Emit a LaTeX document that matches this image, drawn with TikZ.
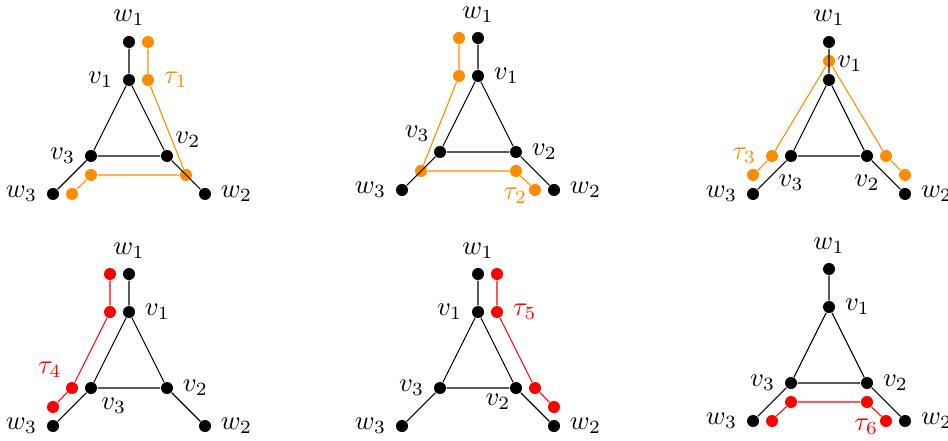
\documentclass[tikz,border=0pt]{standalone}
\usepackage{amsmath}
\usepackage{tikz}
\definecolor{tauorange}{RGB}{255,140,0}
\definecolor{taured}{RGB}{255,0,0}

\begin{document}
\begin{tikzpicture}[x=0.5cm, y=0.5cm,
  dot/.style={circle, fill, inner sep=0pt, minimum size=4.5pt},
  odot/.style={dot, tauorange},
  rdot/.style={dot, taured}]
  \useasboundingbox (0,0) rectangle (24.947,11.579);

  % tau_1
  \begin{scope}[shift={(3.395,7.474)}]
    \node[dot, label=above:$w_1$] (w1a) at (0,3) {};
    \node[dot, label=left:$v_1$] (v1a) at (0,2) {};
    \node[dot, label={[label distance=-3pt]above right:$v_2$}] (v2a) at (1,0) {};
    \node[dot, label=left:$v_3$] (v3a) at (-1,0) {};
    \node[dot, label=right:$w_2$] (w2a) at (2,-1) {};
    \node[dot, label=left:$w_3$] (w3a) at (-2,-1) {};
    \node[odot] (t1a) at (0.5,3) {};
    \node[odot, label={[text=tauorange]right:$\tau_1$}] (t2a) at (0.5,2) {};
    \node[odot] (t3a) at (1.5,-0.5) {};
    \node[odot] (t4a) at (-1,-0.5) {};
    \node[odot] (t5a) at (-1.5,-1) {};
    \draw[tauorange] (t1a) -- (t2a) -- (t3a) -- (t4a) -- (t5a);
    \draw (w1a) -- (v1a) -- (v2a) -- (v3a) -- (v1a) (v2a) -- (w2a) (v3a) -- (w3a);
  \end{scope}

  % tau_2
  \begin{scope}[shift={(12.579,7.579)}]
    \node[dot, label=above:$w_1$] (w1b) at (0,3) {};
    \node[dot, label=right:$v_1$] (v1b) at (0,2) {};
    \node[dot, label=right:$v_2$] (v2b) at (1,0) {};
    \node[dot, label={[label distance=-2pt]above left:$v_3$}] (v3b) at (-1,0) {};
    \node[dot, label=right:$w_2$] (w2b) at (2,-1) {};
    \node[dot, label=left:$w_3$] (w3b) at (-2,-1) {};
    \node[odot] (t1b) at (-0.5,3) {};
    \node[odot] (t2b) at (-0.5,2) {};
    \node[odot] (t3b) at (-1.5,-0.5) {};
    \node[odot] (t4b) at (1,-0.5) {};
    \node[odot, label={[text=tauorange, label distance=-3pt, yshift=-2pt]left:$\tau_2$}] (t5b) at (1.5,-1) {};
    \draw[tauorange] (t1b) -- (t2b) -- (t3b) -- (t4b) -- (t5b);
    \draw (w1b) -- (v1b) -- (v2b) -- (v3b) -- (v1b) (v2b) -- (w2b) (v3b) -- (w3b);
  \end{scope}

  % tau_3
  \begin{scope}[shift={(21.816,7.474)}]
    \node[dot, label=above:$w_1$] (w1c) at (0,3) {};
    \node[dot, label={[label distance=-3pt]45:$v_1$}] (v1c) at (0,2) {};
    \node[dot, label={[label distance=1pt]below:$v_2$}] (v2c) at (1,0) {};
    \node[dot, label={[label distance=1pt]below:$v_3$}] (v3c) at (-1,0) {};
    \node[dot, label=right:$w_2$] (w2c) at (2,-1) {};
    \node[dot, label=left:$w_3$] (w3c) at (-2,-1) {};
    \node[odot] (t1c) at (-2,-0.5) {};
    \node[odot, label={[text=tauorange]left:$\tau_3$}] (t2c) at (-1.5,0) {};
    \node[odot] (t3c) at (0,2.5) {};
    \node[odot] (t4c) at (1.5,0) {};
    \node[odot] (t5c) at (2,-0.5) {};
    \draw[tauorange] (t1c) -- (t2c) -- (t3c) -- (t4c) -- (t5c);
    \draw (w1c) -- (v1c) -- (v2c) -- (v3c) -- (v1c) (v2c) -- (w2c) (v3c) -- (w3c);
  \end{scope}

  % tau_4
  \begin{scope}[shift={(3.395,1.368)}]
    \node[dot, label=above:$w_1$] (w1d) at (0,3) {};
    \node[dot, label=right:$v_1$] (v1d) at (0,2) {};
    \node[dot, label=right:$v_2$] (v2d) at (1,0) {};
    \node[dot, label={[label distance=-2pt]below right:$v_3$}] (v3d) at (-1,0) {};
    \node[dot, label=right:$w_2$] (w2d) at (2,-1) {};
    \node[dot, label=left:$w_3$] (w3d) at (-2,-1) {};
    \node[rdot] (t1d) at (-0.5,3) {};
    \node[rdot] (t2d) at (-0.5,2) {};
    \node[rdot, label={[text=taured, label distance=-2pt]above left:$\tau_4$}] (t3d) at (-1.5,0) {};
    \node[rdot] (t4d) at (-2,-0.5) {};
    \draw[taured] (t1d) -- (t2d) -- (t3d) -- (t4d);
    \draw (w1d) -- (v1d) -- (v2d) -- (v3d) -- (v1d) (v2d) -- (w2d) (v3d) -- (w3d);
  \end{scope}

  % tau_5
  \begin{scope}[shift={(12.579,1.368)}]
    \node[dot, label=above:$w_1$] (w1e) at (0,3) {};
    \node[dot, label=left:$v_1$] (v1e) at (0,2) {};
    \node[dot, label={[label distance=-4.5pt]below left:$v_2$}] (v2e) at (1,0) {};
    \node[dot, label=left:$v_3$] (v3e) at (-1,0) {};
    \node[dot, label=right:$w_2$] (w2e) at (2,-1) {};
    \node[dot, label=left:$w_3$] (w3e) at (-2,-1) {};
    \node[rdot] (t1e) at (0.5,3) {};
    \node[rdot, label={[text=taured]right:$\tau_5$}] (t2e) at (0.5,2) {};
    \node[rdot] (t3e) at (1.5,0) {};
    \node[rdot] (t4e) at (2,-0.5) {};
    \draw[taured] (t1e) -- (t2e) -- (t3e) -- (t4e);
    \draw (w1e) -- (v1e) -- (v2e) -- (v3e) -- (v1e) (v2e) -- (w2e) (v3e) -- (w3e);
  \end{scope}

  % tau_6
  \begin{scope}[shift={(21.816,1.5)}]
    \node[dot, label=above:$w_1$] (w1f) at (0,3) {};
    \node[dot, label=right:$v_1$] (v1f) at (0,2) {};
    \node[dot, label=right:$v_2$] (v2f) at (1,0) {};
    \node[dot, label=left:$v_3$] (v3f) at (-1,0) {};
    \node[dot, label=right:$w_2$] (w2f) at (2,-1) {};
    \node[dot, label=left:$w_3$] (w3f) at (-2,-1) {};
    \node[rdot] (t1f) at (-1.5,-1) {};
    \node[rdot] (t2f) at (-1,-0.5) {};
    \node[rdot] (t3f) at (1,-0.5) {};
    \node[rdot, label={[text=taured, label distance=-3pt, yshift=-2pt]left:$\tau_6$}] (t4f) at (1.5,-1) {};
    \draw[taured] (t1f) -- (t2f) -- (t3f) -- (t4f);
    \draw (w1f) -- (v1f) -- (v2f) -- (v3f) -- (v1f) (v2f) -- (w2f) (v3f) -- (w3f);
  \end{scope}
\end{tikzpicture}
\end{document}
